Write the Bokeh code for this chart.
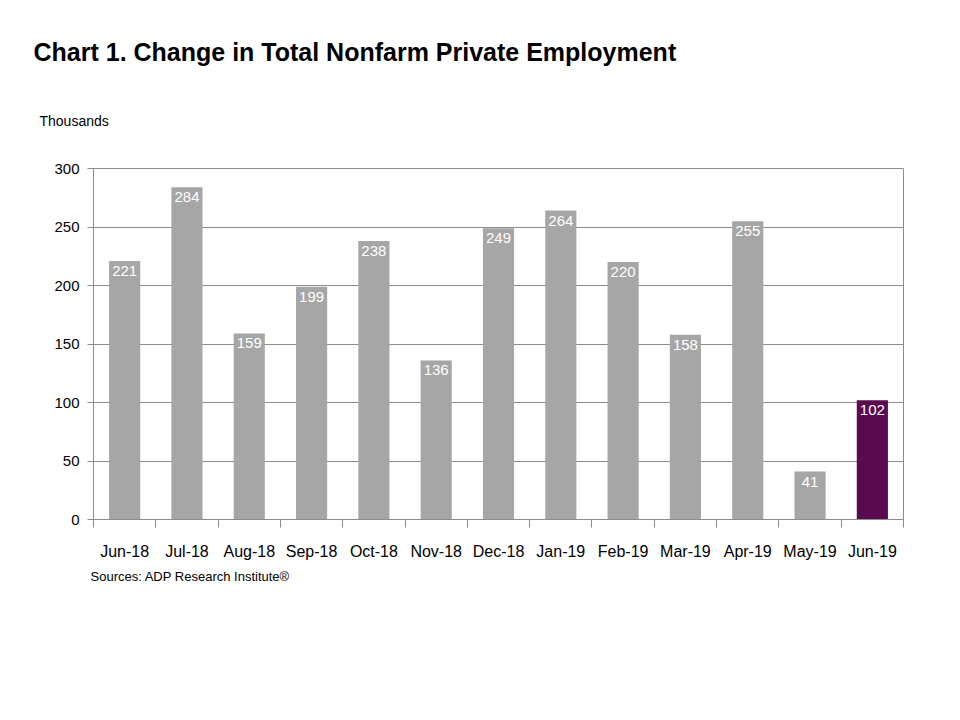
from bokeh.plotting import figure
from bokeh.models import ColumnDataSource, FixedTicker, Title, Range1d
from bokeh.core.properties import value
from bokeh.embed import file_html
from bokeh.resources import INLINE

months = ["Jun-18", "Jul-18", "Aug-18", "Sep-18", "Oct-18", "Nov-18", "Dec-18",
          "Jan-19", "Feb-19", "Mar-19", "Apr-19", "May-19", "Jun-19"]
values = [221, 284, 159, 199, 238, 136, 249, 264, 220, 158, 255, 41, 102]
y_ticks = [0, 50, 100, 150, 200, 250, 300]

GRAY = "#a6a6a6"
PURPLE = "#5a0a4e"
LINE = "#8c8c8c"
FONT = "Liberation Sans"

n = len(months)
xs = [i + 0.5 for i in range(n)]
colors = [GRAY] * (n - 1) + [PURPLE]
src = ColumnDataSource(dict(x=xs, top=values, color=colors,
                            label=[str(v) for v in values]))

p = figure(width=960, height=720, output_backend="svg", toolbar_location=None,
           x_range=Range1d(0, n), y_range=Range1d(0, 300),
           min_border_left=93, min_border_right=57, min_border_top=168,
           min_border_bottom=201)
p.outline_line_color = LINE
p.outline_line_width = 1
p.background_fill_color = "white"
p.border_fill_color = "white"

p.vbar(x="x", top="top", width=0.5, color="color", source=src, line_color=None)
p.text(x="x", y="top", text="label", source=src, text_color="white",
       text_align="center", text_baseline="top", y_offset=5,
       text_font=value(FONT), text_font_size="15px")

# grid
p.xgrid.grid_line_color = None
p.ygrid.grid_line_color = LINE
p.ygrid.grid_line_width = 1
p.ygrid.ticker = FixedTicker(ticks=y_ticks)

# y axis
yax = p.yaxis[0]
yax.ticker = FixedTicker(ticks=y_ticks)
yax.axis_line_color = LINE
yax.major_tick_line_color = LINE
yax.major_tick_out = 6
yax.major_tick_in = 0
yax.minor_tick_line_color = None
yax.major_label_text_font = FONT
yax.major_label_text_font_size = "15px"
yax.major_label_text_color = "black"
yax.major_label_standoff = 8

# x axis: labels at centres, tick marks between categories
xax = p.xaxis[0]
xax.ticker = FixedTicker(ticks=xs, minor_ticks=list(range(n + 1)))
xax.major_label_overrides = {x: m for x, m in zip(xs, months)}
xax.axis_line_color = LINE
xax.major_tick_line_color = None
xax.major_tick_out = 0
xax.major_tick_in = 0
xax.minor_tick_line_color = LINE
xax.minor_tick_out = 8
xax.minor_tick_in = 0
xax.major_label_text_font = FONT
xax.major_label_text_font_size = "16px"
xax.major_label_text_color = "black"
xax.major_label_standoff = 15

# texts outside the frame as titles in the side panels
p.add_layout(Title(text="Thousands", align="left", offset=-54, standoff=80,
                   text_font=FONT, text_font_style="normal",
                   text_font_size="14px", text_color="black"), "above")
p.add_layout(Title(text="Chart 1. Change in Total Nonfarm Private Employment",
                   align="left", offset=-60, standoff=10, text_font=FONT,
                   text_font_style="bold", text_font_size="25px",
                   text_color="black"), "above")
p.add_layout(Title(text="Sources: ADP Research Institute\u00ae", align="left",
                   offset=-3, standoff=8, text_font=FONT,
                   text_font_style="normal", text_font_size="13px",
                   text_color="black"), "below")

open("out.html", "w").write(file_html(p, INLINE))
